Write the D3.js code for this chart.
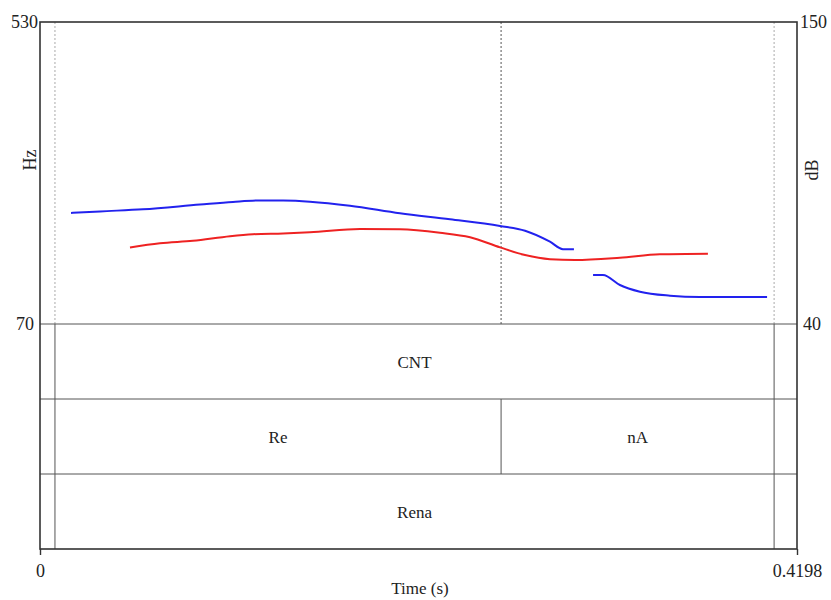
<!DOCTYPE html>
<html><head><meta charset="utf-8">
<script src="https://cdn.jsdelivr.net/npm/d3@7"></script>
<style>body{margin:0;background:#fff}</style>
</head><body>
<svg id="c" width="831" height="600"></svg>
<script>
// Data
const timeDomain = [0, 0.4198];
const hzDomain = [70, 530];
const dbDomain = [40, 150];
const pitchSeg1 = [[0.0172,239.1],[0.0333,241.5],[0.0571,244.7],[0.0887,252.0],[0.1070,256.0],[0.1220,258.2],[0.1348,258.0],[0.1497,256.3],[0.1719,250.2],[0.1996,238.6],[0.2274,229.5],[0.2551,219.3],[0.2690,212.1],[0.2828,195.4],[0.2900,184.0],[0.2961,184.0]];
const pitchSeg2 = [[0.3067,144.6],[0.3122,144.6],[0.3216,129.4],[0.3327,119.2],[0.3494,113.1],[0.3660,111.1],[0.4032,111.1]];
const intensity = [[0.0499,67.9],[0.0665,69.4],[0.0848,70.3],[0.1054,72.0],[0.1181,72.7],[0.1348,73.0],[0.1497,73.4],[0.1775,74.6],[0.1996,74.5],[0.2218,73.25],[0.2385,71.6],[0.2551,67.9],[0.2690,65.1],[0.2828,63.6],[0.2967,63.3],[0.3216,64.15],[0.3438,65.4],[0.3704,65.6]];
const boundaries = [0.0083, 0.2557, 0.4071];
const tier1 = [{start:0.0083,end:0.4071,label:"CNT"}];
const tier2 = [{start:0.0083,end:0.2557,label:"Re"},{start:0.2557,end:0.4071,label:"nA"}];
const tier3 = [{start:0.0083,end:0.4071,label:"Rena"}];
const tiers = [tier1, tier2, tier3];
const leftTicks = ["530","70"];
const rightTicks = ["150","40"];
const timeTicks = ["0","0.4198"];

const svg = d3.select("#c");
const L=40,R=797,T=22,P=324,B=549;
const tierH=(B-P)/3;
const x = d3.scaleLinear().domain(timeDomain).range([L,R]);
const yHz = d3.scaleLinear().domain(hzDomain).range([P,T]);
const yDb = d3.scaleLinear().domain(dbDomain).range([P,T]);
const font = "Liberation Serif, Times New Roman, serif";
const fs = 18;

// dotted boundaries in pitch area
boundaries.forEach((b,i)=>{
  svg.append("line").attr("x1",x(b)).attr("x2",x(b)).attr("y1",T).attr("y2",P)
    .attr("stroke", i===1?"#555":"#aaa").attr("stroke-width",1).attr("stroke-dasharray","2,2");
});

// tiers
tiers.forEach((tier,i)=>{
  const y0=P+i*tierH, y1=y0+tierH;
  svg.append("line").attr("x1",L).attr("x2",R).attr("y1",y0).attr("y2",y0).attr("stroke","#555").attr("stroke-width",1);
  const bs = new Set();
  tier.forEach(iv=>{bs.add(iv.start);bs.add(iv.end);});
  bs.forEach(b=>svg.append("line").attr("x1",x(b)).attr("x2",x(b)).attr("y1",y0).attr("y2",y1).attr("stroke","#555").attr("stroke-width",1));
  tier.forEach(iv=>{
    svg.append("text").attr("x",x((iv.start+iv.end)/2)).attr("y",(y0+y1)/2+6)
      .attr("text-anchor","middle").attr("font-family",font).attr("font-size",17).attr("fill","#222").text(iv.label);
  });
});

// lines
const lineHz = d3.line().x(d=>x(d[0])).y(d=>yHz(d[1])).curve(d3.curveMonotoneX);
const lineDb = d3.line().x(d=>x(d[0])).y(d=>yDb(d[1])).curve(d3.curveMonotoneX);
[pitchSeg1,pitchSeg2].forEach(s=>svg.append("path").attr("d",lineHz(s)).attr("fill","none").attr("stroke","#2222ee").attr("stroke-width",2));
svg.append("path").attr("d",lineDb(intensity)).attr("fill","none").attr("stroke","#ee2222").attr("stroke-width",2);

// frame
svg.append("rect").attr("x",L).attr("y",T).attr("width",R-L).attr("height",B-T).attr("fill","none").attr("stroke","#333").attr("stroke-width",1.6);

// axis ticks bottom
const xAxis = d3.axisBottom(x).tickValues(timeDomain).tickSize(6).tickFormat((d,i)=>timeTicks[i]);
const gx = svg.append("g").attr("transform",`translate(0,${B})`).call(xAxis);
gx.select(".domain").remove();
gx.selectAll("line").attr("stroke","#333").attr("stroke-width",1.4);
gx.selectAll("text").attr("font-family",font).attr("font-size",fs).attr("fill","#222").attr("dy","1.05em");

// left/right labels
svg.append("text").attr("x",38).attr("y",T+6).attr("text-anchor","end").attr("font-family",font).attr("font-size",fs).attr("fill","#222").text(leftTicks[0]);
svg.append("text").attr("x",34).attr("y",P+6).attr("text-anchor","end").attr("font-family",font).attr("font-size",fs).attr("fill","#222").text(leftTicks[1]);
svg.append("text").attr("x",800).attr("y",T+6).attr("text-anchor","start").attr("font-family",font).attr("font-size",fs).attr("fill","#222").text(rightTicks[0]);
svg.append("text").attr("x",803).attr("y",P+6).attr("text-anchor","start").attr("font-family",font).attr("font-size",fs).attr("fill","#222").text(rightTicks[1]);

svg.append("text").attr("transform","translate(36,160) rotate(-90)").attr("text-anchor","middle").attr("font-family",font).attr("font-size",fs).attr("fill","#222").text("Hz");
svg.append("text").attr("transform","translate(818,170) rotate(-90)").attr("text-anchor","middle").attr("font-family",font).attr("font-size",fs).attr("fill","#222").text("dB");

svg.append("text").attr("x",420).attr("y",594).attr("text-anchor","middle").attr("font-family",font).attr("font-size",17).attr("fill","#222").text("Time (s)");
</script>
</body></html>
